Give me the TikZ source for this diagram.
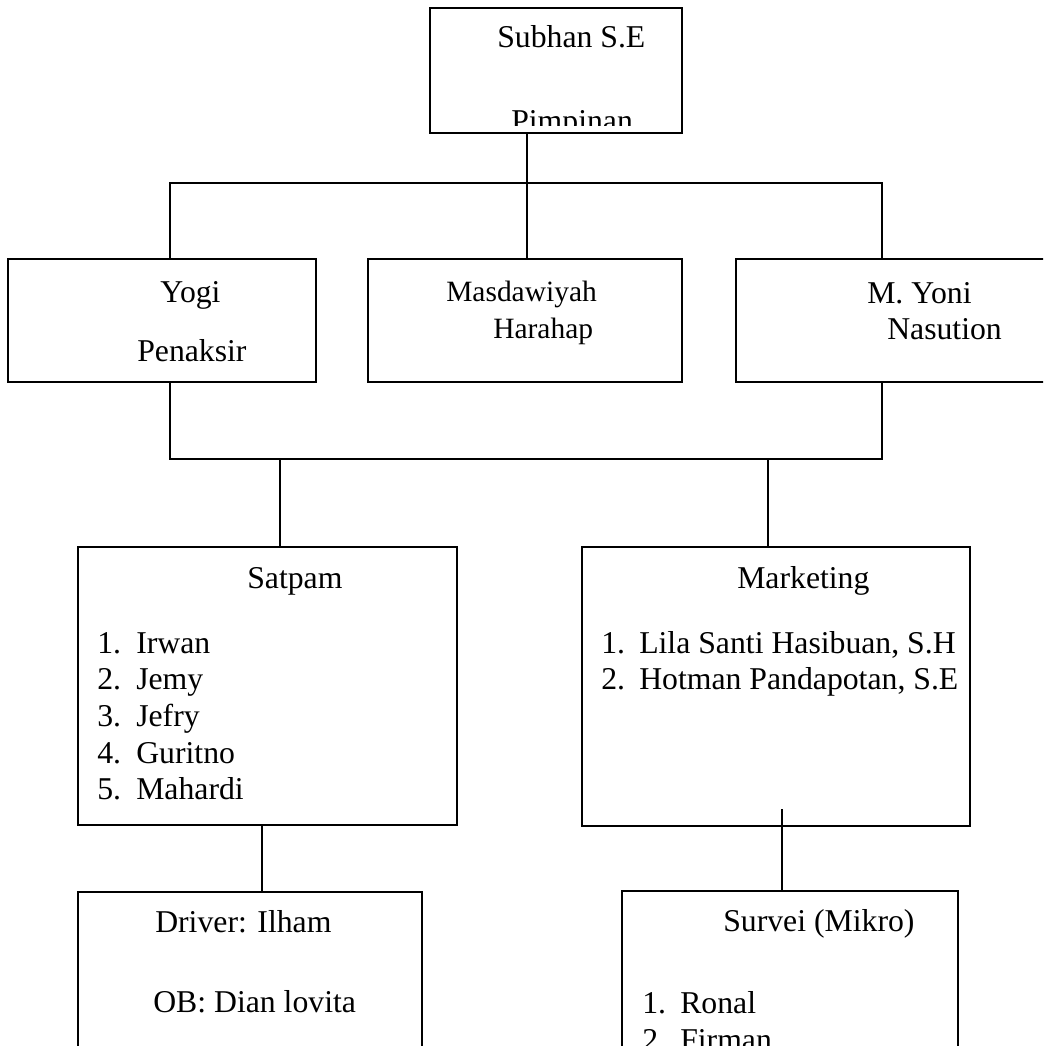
\documentclass[tikz,border=0pt]{standalone}
\usepackage{fontspec}
\setmainfont{Liberation Serif}
\usetikzlibrary{fit}
\begin{document}
\begin{tikzpicture}[x=0.75pt,y=-0.75pt,
  box/.style={draw, line width=1.1pt, inner sep=0pt},
  wire/.style={line width=1.1pt},
  lbl/.style={anchor=base west, inner sep=0pt, font=\fontsize{23.8}{28}\selectfont},
  lblsm/.style={anchor=base west, inner sep=0pt, font=\fontsize{22.1}{26}\selectfont}]
\useasboundingbox (0,0) rectangle (1043,1046);
\clip (0,0) rectangle (1043,1046);
\fill[white] (0,0) rectangle (1043,1046);

% boxes
\node[box, fit={(430,8) (682,133)}] (top) {};
\node[box, fit={(8,259) (316,382)}] (yogi) {};
\node[box, fit={(368,259) (682,382)}] (masd) {};
\node[box, fit={(736,259) (1060,382)}] (myoni) {};
\node[box, fit={(78,547) (457,825)}] (satpam) {};
\node[box, fit={(582,547) (970,826)}] (mark) {};
\node[box, fit={(78,892) (422,1070)}] (driver) {};
\node[box, fit={(622,891) (958,1070)}] (survei) {};

% junction coordinates
\coordinate (j1) at (527,183);
\coordinate (hL) at (170,183);
\coordinate (hR) at (882,183);
\coordinate (mL) at (170,459);
\coordinate (mR) at (882,459);
\coordinate (s1) at (280,459);
\coordinate (s2) at (768,459);
\coordinate (d1) at (262,825);
\coordinate (m1) at (782,809);

% connectors
\draw[wire] (top.south -| j1) -- (j1 |- masd.north);
\draw[wire] (hL |- yogi.north) -- (hL) -- (hR) -- (hR |- myoni.north);
\draw[wire] (hL |- yogi.south) -- (mL) -- (mR) -- (mR |- myoni.south);
\draw[wire] (s1) -- (s1 |- satpam.north);
\draw[wire] (s2) -- (s2 |- mark.north);
\draw[wire] (satpam.south -| d1) -- (driver.north -| d1);
\draw[wire] (m1) -- (m1 |- survei.north);

% texts
\node[lbl] (t1) at (497,47) {Subhan S.E};
\begin{scope}
  \clip (430,8) rectangle (682,125);
  \node[lbl] (t2) at (511,131) {Pimpinan};
\end{scope}

\node[lbl] (y1) at (160,302) {Yogi};
\node[lbl] (y2) at (137,361) {Penaksir};
\node[lblsm] (ma1) at (446,301) {Masdawiyah};
\node[lblsm] (ma2) at (493,338) {Harahap};
\node[lbl] (my1) at (867,303) {M. Yoni};
\node[lbl] (my2) at (887,339) {Nasution};

\node[lbl] (sa) at (247,588) {Satpam};
\node[lbl] (sa1n) at (97,653) {1.};  \node[lbl] (sa1) at (136,653) {Irwan};
\node[lbl] (sa2n) at (97,689) {2.};  \node[lbl] (sa2) at (136,689) {Jemy};
\node[lbl] (sa3n) at (97,726) {3.};  \node[lbl] (sa3) at (136,726) {Jefry};
\node[lbl] (sa4n) at (97,763) {4.};  \node[lbl] (sa4) at (136,763) {Guritno};
\node[lbl] (sa5n) at (97,799) {5.};  \node[lbl] (sa5) at (136,799) {Mahardi};

\node[lbl] (mk) at (737,588) {Marketing};
\node[lbl] (mk1n) at (601,653) {1.}; \node[lbl] (mk1) at (639,653) {Lila Santi Hasibuan, S.H};
\node[lbl] (mk2n) at (601,689) {2.}; \node[lbl] (mk2) at (639,689) {Hotman Pandapotan, S.E};

\node[lbl] (dr1) at (155,932) {Driver: Ilham};
\node[lbl] (dr2) at (153,1012) {OB: Dian lovita};

\node[lbl] (sv) at (723,931) {Survei (Mikro)};
\node[lbl] (sv1n) at (642,1013) {1.}; \node[lbl] (sv1) at (680,1013) {Ronal};
\node[lbl] (sv2n) at (642,1050) {2.}; \node[lbl] (sv2) at (680,1050) {Firman};
\end{tikzpicture}
\end{document}
